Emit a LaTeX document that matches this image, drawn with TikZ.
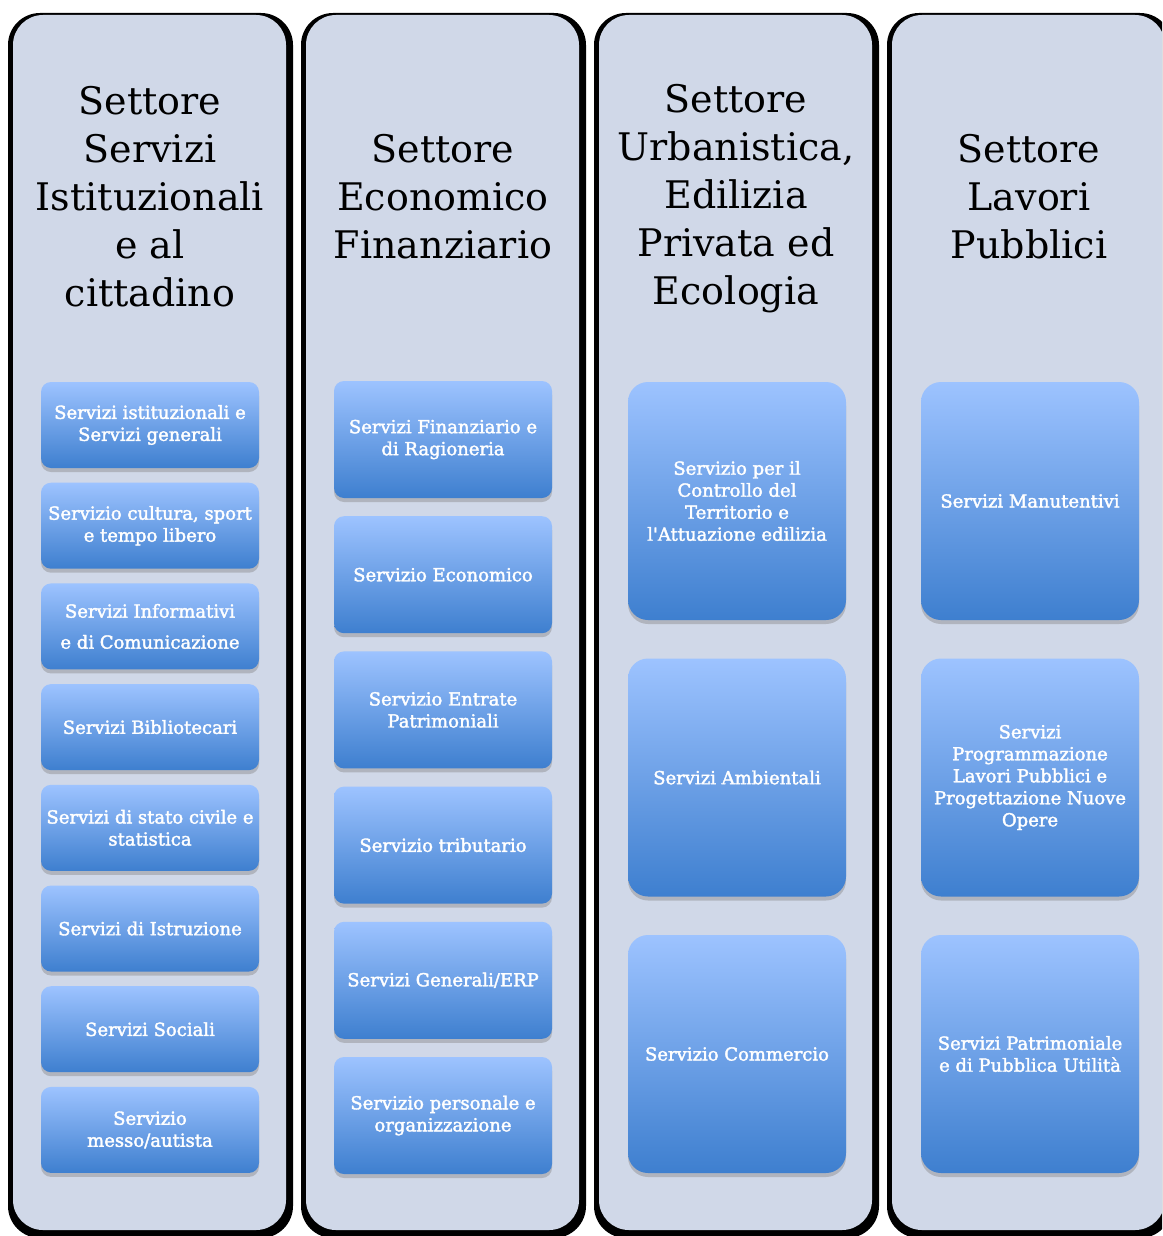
\documentclass[tikz,border=0pt]{standalone}
\usepackage{fontspec}
\usetikzlibrary{positioning,shadows}
\newfontfamily\headfont{DejaVu Serif}
\newfontfamily\srvfont[FakeBold=2]{DejaVu Serif}
\definecolor{panelbg}{HTML}{D0D8E8}
\definecolor{srvtop}{HTML}{9DC3FF}
\definecolor{srvbot}{HTML}{3E7FCF}
\tikzset{
  hd/.style={align=center, text=black, inner sep=0pt, font=\headfont\fontsize{19pt}{24pt}\selectfont},
  srv/.style={rounded corners=5pt, top color=srvtop, bottom color=srvbot, text=white, align=center,
    font=\srvfont\fontsize{9pt}{11pt}\selectfont, minimum width=109pt, inner sep=2pt, outer sep=0pt,
    drop shadow={shadow xshift=0pt, shadow yshift=-2pt, opacity=0.4}},
  srvs/.style={srv, minimum height=43pt},
  srvm/.style={srv, minimum height=58.5pt},
  srvl/.style={srv, minimum height=119pt, rounded corners=10pt},
}

\begin{document}
\begin{tikzpicture}[x=0.5pt, y=-0.5pt, node distance=7.35pt]
  \clip (0,0) rectangle (1162,1236);
  % the four sector panels, dark rim on sides and bottom
  \foreach \l in {13,306,599,892}{
    \fill[black, rounded corners=16pt] (\l-5,13) rectangle (\l+280,1238);
    \fill[panelbg, rounded corners=15pt] (\l,15) rectangle (\l+273,1230);
  }

  \node[hd] (hi) at (150,197) {Settore\\Servizi\\Istituzionali\\e al\\cittadino};
  \node[hd] (he) at (443,197) {Settore\\Economico\\Finanziario};
  \node[hd] (hu) at (736,199) {Settore\\Urbanistica,\\Edilizia\\Privata ed\\Ecologia};
  \node[hd] (hl) at (1029,197) {Settore\\Lavori\\Pubblici};

  % Servizi Istituzionali
  \node[srvs] (i1) at (150,425) {Servizi istituzionali e\\Servizi generali};
  \node[srvs, below=of i1] (i2) {Servizio cultura, sport\\e tempo libero};
  \node[srvs, below=of i2] (i3) {Servizi Informativi\\[4.5pt]e di Comunicazione};
  \node[srvs, below=of i3] (i4) {Servizi Bibliotecari};
  \node[srvs, below=of i4] (i5) {Servizi di stato civile e\\statistica};
  \node[srvs, below=of i5] (i6) {Servizi di Istruzione};
  \node[srvs, below=of i6] (i7) {Servizi Sociali};
  \node[srvs, below=of i7] (i8) {Servizio\\messo/autista};

  % Economico Finanziario
  \begin{scope}[node distance=9.1pt]
    \node[srvm] (e1) at (443,439.5) {Servizi Finanziario e\\di Ragioneria};
    \node[srvm, below=of e1] (e2) {Servizio Economico};
    \node[srvm, below=of e2] (e3) {Servizio Entrate\\Patrimoniali};
    \node[srvm, below=of e3] (e4) {Servizio tributario};
    \node[srvm, below=of e4] (e5) {Servizi Generali/ERP};
    \node[srvm, below=of e5] (e6) {Servizio personale e\\organizzazione};
  \end{scope}

  % Urbanistica e Lavori Pubblici
  \begin{scope}[node distance=19.25pt]
    \node[srvl] (u1) at (737,501) {Servizio per il\\Controllo del\\Territorio e\\l'Attuazione edilizia};
    \node[srvl, below=of u1] (u2) {Servizi Ambientali};
    \node[srvl, below=of u2] (u3) {Servizio Commercio};
    \node[srvl] (l1) at (1030,501) {Servizi Manutentivi};
    \node[srvl, below=of l1] (l2) {Servizi\\Programmazione\\Lavori Pubblici e\\Progettazione Nuove\\Opere};
    \node[srvl, below=of l2] (l3) {Servizi Patrimoniale\\e di Pubblica Utilità};
  \end{scope}
\end{tikzpicture}
\end{document}
